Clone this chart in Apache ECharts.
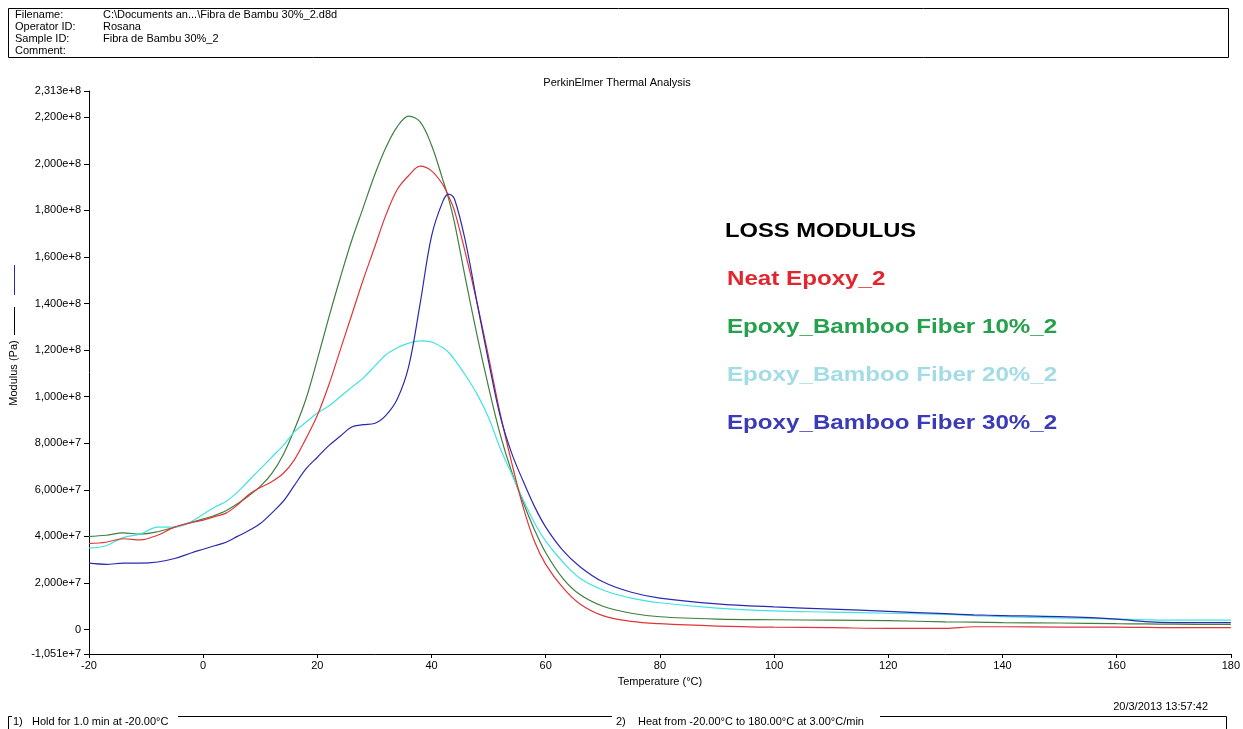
<!DOCTYPE html>
<html>
<head>
<meta charset="utf-8">
<script src="https://cdn.jsdelivr.net/npm/echarts@6/dist/echarts.min.js"></script>
<style>
  html, body { margin: 0; padding: 0; background: #fff; }
  #chart { width: 1243px; height: 729px; }
</style>
</head>
<body>
<div id="chart"></div>
<script>
// temperatures (°C) shared by all curves
var temps = [-20, -17, -14, -11, -8, -5, -2, 0, 2, 4, 6, 8, 10, 12, 14, 16, 18, 20, 22, 24, 26, 28, 30, 32, 34, 36, 38, 40, 42, 43, 44, 46, 48, 50, 52, 54, 56, 58, 60, 63, 66, 70, 75, 80, 90, 100, 110, 120, 130, 135, 140, 150, 160, 165, 170, 180];

// loss modulus, units of 1e7 Pa
var neatEpoxy = [3.7, 3.75, 3.9, 3.85, 4.05, 4.4, 4.6, 4.7, 4.85, 5.0, 5.35, 5.8, 6.1, 6.35, 6.7, 7.3, 8.2, 9.2, 10.5, 12.0, 13.5, 15.0, 16.4, 17.8, 18.9, 19.5, 19.9, 19.7, 19.1, 18.6, 18.0, 16.1, 14.0, 11.7, 9.3, 7.2, 5.3, 3.8, 2.8, 1.8, 1.1, 0.6, 0.35, 0.25, 0.15, 0.1, 0.08, 0.05, 0.05, 0.12, 0.12, 0.1, 0.1, 0.09, 0.08, 0.08];
var fiber10 = [4.0, 4.05, 4.15, 4.1, 4.2, 4.4, 4.6, 4.75, 4.9, 5.1, 5.4, 5.75, 6.15, 6.7, 7.5, 8.6, 9.9, 11.6, 13.4, 15.1, 16.7, 18.1, 19.5, 20.7, 21.6, 22.05, 21.8, 20.8, 19.3, 18.5, 17.5, 15.0, 12.6, 10.4, 8.4, 6.8, 5.5, 4.3, 3.3, 2.2, 1.5, 1.0, 0.7, 0.55, 0.45, 0.42, 0.4, 0.38, 0.33, 0.32, 0.3, 0.28, 0.25, 0.24, 0.23, 0.22];
var fiber20 = [3.5, 3.6, 3.95, 4.1, 4.4, 4.4, 4.65, 4.95, 5.25, 5.5, 5.9, 6.4, 6.9, 7.4, 7.9, 8.5, 8.9, 9.3, 9.6, 10.0, 10.4, 10.8, 11.3, 11.8, 12.1, 12.3, 12.4, 12.35, 12.1, 11.9, 11.6, 10.9, 10.1, 9.1, 7.8, 6.7, 5.6, 4.6, 3.8, 2.9, 2.2, 1.7, 1.35, 1.15, 0.92, 0.8, 0.75, 0.7, 0.65, 0.6, 0.55, 0.5, 0.45, 0.42, 0.4, 0.4];
var fiber30 = [2.85, 2.8, 2.85, 2.85, 2.9, 3.05, 3.3, 3.45, 3.6, 3.75, 4.0, 4.25, 4.55, 5.0, 5.5, 6.2, 6.9, 7.4, 7.9, 8.3, 8.7, 8.8, 8.85, 9.2, 9.9, 11.3, 14.0, 16.9, 18.4, 18.7, 18.5, 16.6, 14.0, 11.5, 9.2, 7.6, 6.4, 5.3, 4.4, 3.4, 2.7, 2.05, 1.6, 1.35, 1.1, 0.97, 0.88, 0.78, 0.68, 0.63, 0.6, 0.55, 0.45, 0.34, 0.3, 0.3];

// y tick values (Pa)
var yTicks = [-1.051e7, 0, 2e7, 4e7, 6e7, 8e7, 1e8, 1.2e8, 1.4e8, 1.6e8, 1.8e8, 2e8, 2.2e8, 2.313e8];

var seriesNames = ['Neat Epoxy_2', 'Epoxy_Bamboo Fiber 10%_2', 'Epoxy_Bamboo Fiber 20%_2', 'Epoxy_Bamboo Fiber 30%_2'];
var lineColors = ['#e0363a', '#3f7f3f', '#3fe3e0', '#2a2ab0'];
var textColors = ['#e3262d', '#25a04c', '#a3dce5', '#3b3bb8'];
var seriesData = [neatEpoxy, fiber10, fiber20, fiber30];

var font = 'Liberation Sans, Arial, sans-serif';

function pairs(vals) {
    return temps.map(function (t, i) { return [t, vals[i] * 1e7]; });
}

function fmtY(v) {
    if (v === 0) return '0';
    return v.toExponential(3).replace('.', ',');
}

var chart = echarts.init(document.getElementById('chart'));

var graphics = [
    // header box
    { type: 'rect', shape: { x: 8.5, y: 8.5, width: 1220, height: 49 }, style: { fill: 'none', stroke: '#000', lineWidth: 1 } },
    { type: 'text', left: 15, top: 9, style: { text: 'Filename:\nOperator ID:\nSample ID:\nComment:', font: '11px ' + font, lineHeight: 12, fill: '#000' } },
    { type: 'text', left: 103, top: 9, style: { text: 'C:\\Documents an...\\Fibra de Bambu 30%_2.d8d\nRosana\nFibra de Bambu 30%_2', font: '11px ' + font, lineHeight: 12, fill: '#000' } },
    // title
    { type: 'text', x: 617, y: 77, style: { text: 'PerkinElmer Thermal Analysis', font: '11px ' + font, fill: '#000', align: 'center' } },
    // y axis name with line markers
    { type: 'line', shape: { x1: 14.5, y1: 265, x2: 14.5, y2: 295 }, style: { stroke: '#2a2ab0', lineWidth: 1 } },
    { type: 'line', shape: { x1: 14.5, y1: 307, x2: 14.5, y2: 335 }, style: { stroke: '#000', lineWidth: 1 } },
    { type: 'text', x: 8, y: 373, rotation: Math.PI / 2, style: { text: 'Modulus (Pa)', font: '11px ' + font, fill: '#000', align: 'center', verticalAlign: 'top' } },
    // timestamp
    { type: 'text', x: 1208, y: 701, style: { text: '20/3/2013 13:57:42', font: '11px ' + font, fill: '#000', align: 'right' } },
    // method steps
    { type: 'polyline', shape: { points: [[8.5, 729], [8.5, 716.5], [12, 716.5]] }, style: { stroke: '#000', lineWidth: 1, fill: 'none' } },
    { type: 'text', x: 13, y: 716, style: { text: '1)   Hold for 1.0 min at -20.00°C', font: '11px ' + font, fill: '#000' } },
    { type: 'line', shape: { x1: 178, y1: 716.5, x2: 612, y2: 716.5 }, style: { stroke: '#000', lineWidth: 1 } },
    { type: 'text', x: 616, y: 716, style: { text: '2)    Heat from -20.00°C to 180.00°C at 3.00°C/min', font: '11px ' + font, fill: '#000' } },
    { type: 'polyline', shape: { points: [[880, 716.5], [1226.5, 716.5], [1226.5, 729]] }, style: { stroke: '#000', lineWidth: 1, fill: 'none' } },
    // legend block
    { type: 'text', x: 725, y: 221, scaleX: 1.13, style: { text: 'LOSS MODULUS', font: 'bold 21px ' + font, fill: '#000' } }
];
seriesNames.forEach(function (name, i) {
    graphics.push({ type: 'text', x: 727, y: 269 + i * 48, scaleX: 1.15, style: { text: name, font: 'bold 21px ' + font, fill: textColors[i] } });
});

var option = {
    backgroundColor: '#fff',
    animation: false,
    grid: { left: 89, right: 11, top: 91, bottom: 75 },
    xAxis: {
        type: 'value',
        min: -20,
        max: 180,
        interval: 20,
        name: 'Temperature (°C)',
        nameLocation: 'middle',
        nameGap: 22,
        nameTextStyle: { color: '#000', fontSize: 11, fontFamily: font },
        axisLine: { onZero: false, lineStyle: { color: '#000', width: 1 } },
        axisTick: { inside: false, length: 4, lineStyle: { color: '#000' } },
        axisLabel: { color: '#000', fontSize: 11, fontFamily: font, margin: 6, showMaxLabel: true },
        splitLine: { show: false }
    },
    yAxis: {
        type: 'value',
        min: -1.051e7,
        max: 2.313e8,
        axisLine: { show: true, onZero: false, lineStyle: { color: '#000', width: 1 } },
        axisTick: { show: true, length: 5, customValues: yTicks, lineStyle: { color: '#000' } },
        axisLabel: { color: '#000', fontSize: 11, fontFamily: font, margin: 8, customValues: yTicks, formatter: fmtY },
        splitLine: { show: false }
    },
    series: seriesData.map(function (vals, i) {
        return {
            name: seriesNames[i],
            type: 'line',
            data: pairs(vals),
            smooth: 0.35,
            showSymbol: false,
            lineStyle: { color: lineColors[i], width: 1.2 },
            z: 2 + (i === 0 ? 3 : i)
        };
    }),
    graphic: graphics
};
chart.setOption(option);
</script>
</body>
</html>
